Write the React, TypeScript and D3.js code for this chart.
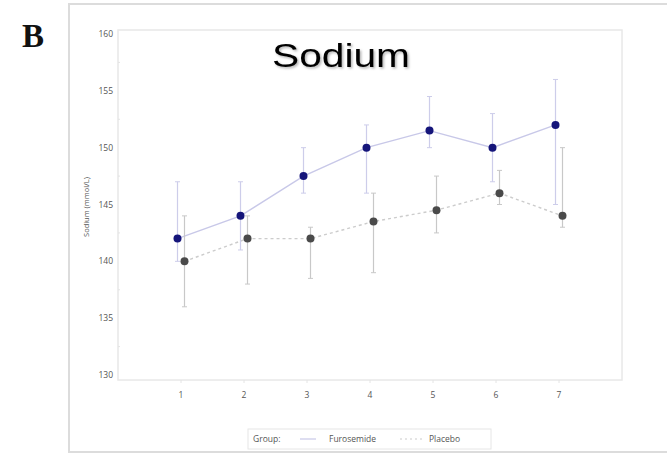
import React from "react";
import * as d3 from "d3";

const visits = [1, 2, 3, 4, 5, 6, 7];
const furoMean = [142, 144, 147.5, 150, 151.5, 150, 152];
const furoHigh = [147, 147, 150, 152, 154.5, 153, 156];
const furoLow = [140, 141, 146, 146, 150, 147, 145];
const placMean = [140, 142, 142, 143.5, 144.5, 146, 144];
const placHigh = [144, 144, 143, 146, 147.5, 148, 150];
const placLow = [136, 138, 138.5, 139, 142.5, 145, 143];
const yTicks = [130, 135, 140, 145, 150, 155, 160];
const yMinor = [132.5, 137.5, 142.5, 147.5, 152.5, 157.5];

const W = 667, H = 453;
const PL = 118, PR = 622, PT = 30, PB = 380;

export default function App() {
  const x = d3.scaleLinear().domain([0, 8]).range([PL, PR]);
  const y = d3.scaleLinear().domain([130, 160]).range([375, 34]);

  const series = [
    { name: "Furosemide", mean: furoMean, hi: furoHigh, lo: furoLow, off: -3.5, dot: "#15157a", line: "#c8c8e8", err: "#cdcdea", dash: "" },
    { name: "Placebo", mean: placMean, hi: placHigh, lo: placLow, off: 3.5, dot: "#4a4a4a", line: "#cccccc", err: "#c8c8c8", dash: "3,3" },
  ];

  const line = (s: any) =>
    d3.line<number>().x((d, i) => x(visits[i]) + s.off).y((d) => y(d))(s.mean) || "";

  const tickFont = { fontFamily: "'Open Sans', 'DejaVu Sans', sans-serif", fontSize: 8.5, fill: "#555" };

  return (
    <svg width={W} height={H} style={{ position: "absolute", left: 0, top: 0 }}>
      <defs>
        <filter id="sh" x="-10%" y="-10%" width="130%" height="140%">
          <feDropShadow dx="1.5" dy="1.5" stdDeviation="1" floodColor="#000" floodOpacity="0.3" />
        </filter>
      </defs>
      <rect x={0} y={0} width={W} height={H} fill="#fff" />
      <rect x={69} y={4} width={W} height={448} fill="none" stroke="#dcdcdc" strokeWidth={2} />
      <text x={22} y={47} fontFamily="'Liberation Serif', 'DejaVu Serif', serif" fontWeight="bold" fontSize={33} fill="#111">B</text>
      <rect x={PL} y={PT} width={PR - PL} height={PB - PT} fill="none" stroke="#e8e8e8" strokeWidth={1.5} />
      {yTicks.map((t) => (
        <text key={t} x={113} y={y(t) + 3} textAnchor="end" {...tickFont}>{t}</text>
      ))}
      {yMinor.map((t) => (
        <line key={t} x1={PL} x2={PL + 2} y1={y(t)} y2={y(t)} stroke="#e4e4e4" />
      ))}
      {visits.map((v) => (
        <g key={v}>
          <line x1={x(v)} x2={x(v)} y1={PB} y2={PB + 3} stroke="#e4e4e4" />
          <text x={x(v)} y={398} textAnchor="middle" {...tickFont}>{v}</text>
        </g>
      ))}
      <text transform="translate(89,207) rotate(-90)" textAnchor="middle" {...tickFont} fontSize={7.5}>Sodium (mmol/L)</text>
      {series.map((s) => (
        <g key={s.name}>
          <path d={line(s)} fill="none" stroke={s.line} strokeWidth={1.4} strokeDasharray={s.dash} />
          {s.mean.map((m, i) => {
            const cx = x(visits[i]) + s.off;
            return (
              <g key={i}>
                <line x1={cx} x2={cx} y1={y(s.hi[i])} y2={y(s.lo[i])} stroke={s.err} strokeWidth={1.2} />
                <line x1={cx - 2.5} x2={cx + 2.5} y1={y(s.hi[i])} y2={y(s.hi[i])} stroke={s.err} strokeWidth={1} />
                <line x1={cx - 2.5} x2={cx + 2.5} y1={y(s.lo[i])} y2={y(s.lo[i])} stroke={s.err} strokeWidth={1} />
              </g>
            );
          })}
          {s.mean.map((m, i) => (
            <circle key={i} cx={x(visits[i]) + s.off} cy={y(m)} r={4} fill={s.dot} />
          ))}
        </g>
      ))}
      <text x={341} y={67} textAnchor="middle" fontFamily="'Liberation Sans', Arial, sans-serif" fontSize={34} fill="#000" textLength={138} lengthAdjust="spacingAndGlyphs" filter="url(#sh)">Sodium</text>
      <rect x={248} y={429} width={243} height={20} fill="#fff" stroke="#e6e6e6" strokeWidth={1} />
      <text x={253} y={442} {...tickFont}>Group:</text>
      <line x1={300} x2={316} y1={439} y2={439} stroke="#c8c8e8" strokeWidth={1.2} />
      <text x={329} y={442} {...tickFont}>Furosemide</text>
      <line x1={400} x2={422} y1={439} y2={439} stroke="#cccccc" strokeWidth={1.2} strokeDasharray="2,3" />
      <text x={429} y={442} {...tickFont}>Placebo</text>
    </svg>
  );
}
